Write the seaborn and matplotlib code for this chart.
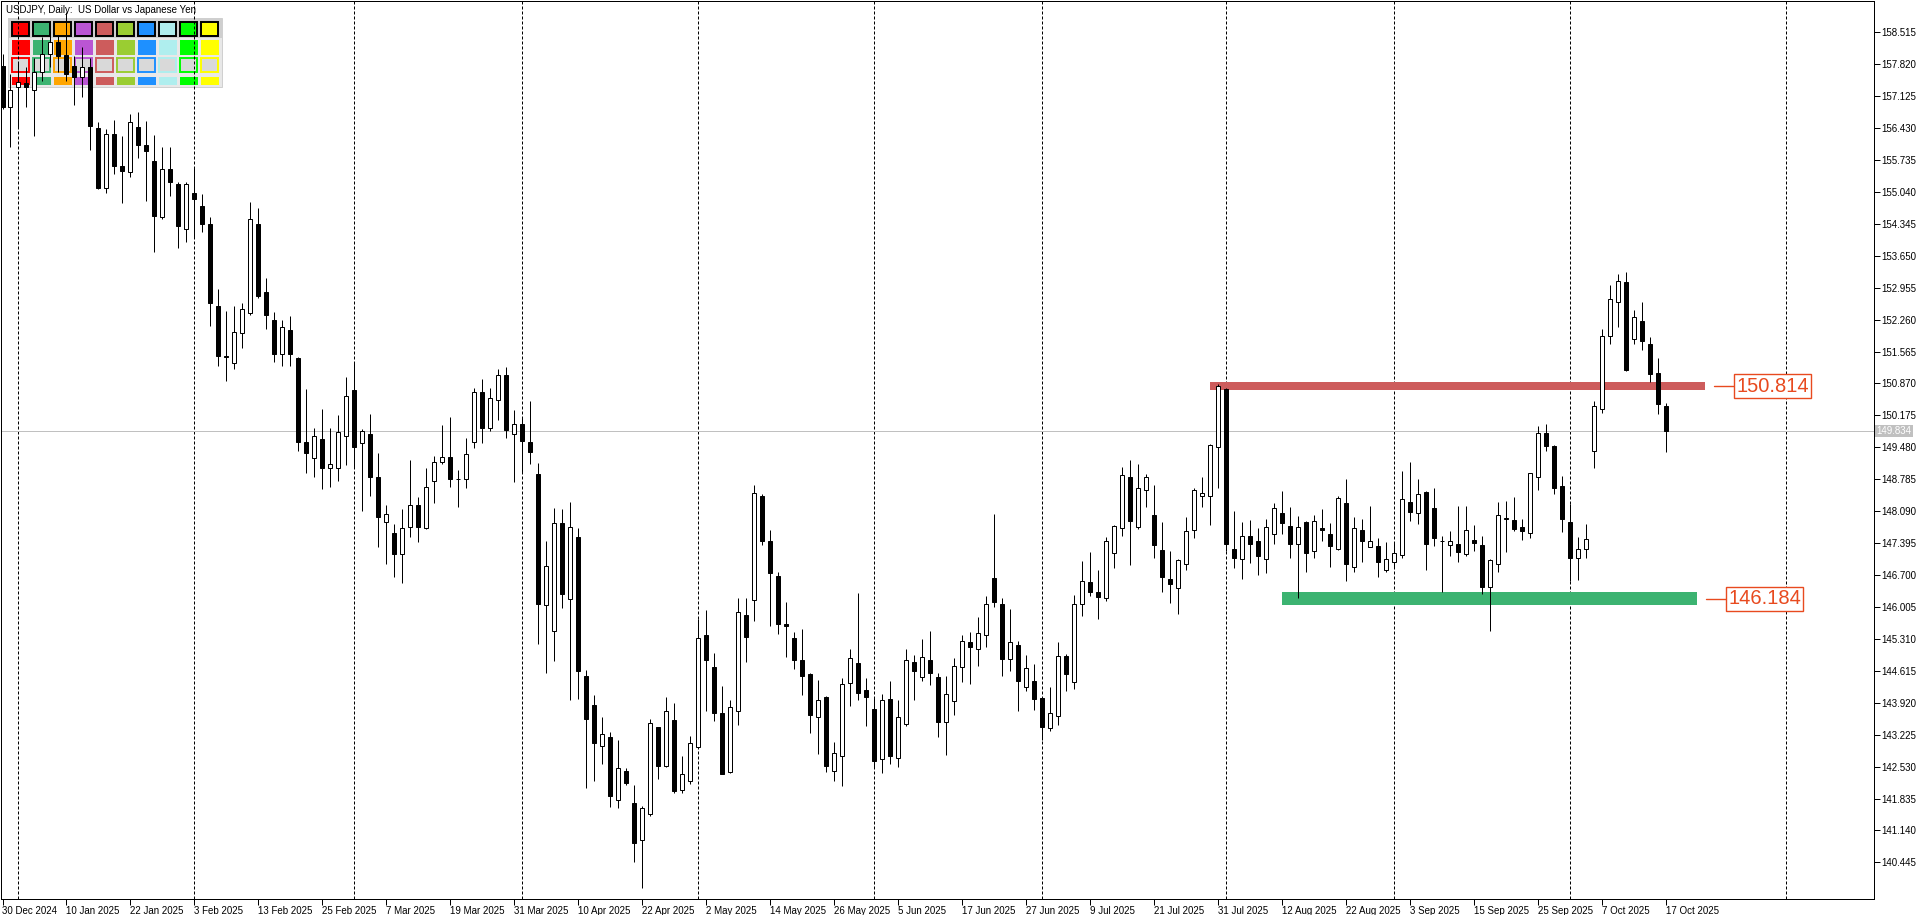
import matplotlib
matplotlib.use("Agg")
import matplotlib.pyplot as plt
import matplotlib.transforms as mtransforms
from matplotlib.patches import Rectangle
import numpy as np
import pandas as pd
import seaborn as sns

# daily bars 30 Dec 2024 .. 17 Oct 2025 (no bar on 1 Jan)
dates = pd.bdate_range("2024-12-30", "2025-10-17")
dates = dates[dates != pd.Timestamp("2025-01-01")]

opens = [
    157.77, 156.88, 157.32, 157.40, 157.25, 157.65, 158.05, 158.30, 158.02, 157.77,
    157.55, 157.75, 156.42, 155.13, 156.29, 155.61, 155.48, 156.45, 156.06, 155.71,
    154.49, 155.53, 155.21, 154.24, 155.01, 154.73, 154.35, 152.55, 151.47, 151.31,
    151.96, 152.41, 154.34, 152.85, 152.24, 151.50, 152.03, 151.42, 149.59, 149.24,
    149.67, 149.02, 149.04, 149.73, 150.72, 149.58, 149.78, 148.83, 147.86, 147.61,
    147.15, 147.74, 148.22, 147.72, 148.74, 149.15, 149.26, 148.80, 148.78, 149.59,
    150.68, 149.89, 150.52, 151.05, 149.76, 149.98, 149.59, 148.90, 146.04, 145.49,
    147.83, 146.17, 147.52, 144.50, 143.87, 142.97, 143.17, 141.80, 142.44, 141.74,
    140.93, 141.49, 143.39, 142.55, 143.54, 142.01, 142.22, 142.96, 145.39, 144.69,
    143.69, 142.42, 143.73, 145.82, 146.15, 148.41, 147.44, 146.67, 145.63, 145.33,
    144.85, 144.54, 143.60, 144.04, 142.44, 142.75, 144.34, 144.78, 144.20, 143.78,
    142.69, 144.00, 142.71, 143.46, 144.80, 144.47, 144.84, 144.49, 143.49, 143.95,
    144.70, 145.24, 145.08, 145.39, 146.63, 146.08, 144.87, 145.17, 144.27, 144.39,
    144.02, 143.38, 143.63, 144.94, 144.38, 146.06, 146.55, 146.33, 146.19, 147.19,
    147.72, 148.83, 147.75, 148.54, 148.00, 147.24, 146.61, 146.42, 146.95, 147.69,
    148.43, 148.43, 149.48, 150.74, 147.26, 147.04, 147.54, 147.43, 147.04, 147.59,
    148.06, 147.76, 147.37, 147.85, 147.22, 147.72, 147.59, 147.27, 148.26, 146.87,
    147.69, 147.32, 147.34, 146.80, 146.98, 147.13, 148.28, 148.04, 148.50, 148.15,
    147.45, 147.35, 147.37, 147.15, 147.46, 147.35, 146.45, 146.93, 147.91, 147.90,
    147.74, 147.62, 148.84, 149.80, 149.51, 148.64, 147.85, 147.06, 147.26, 149.39,
    150.32, 151.91, 152.65, 153.07, 151.84, 152.23, 151.72, 151.09, 150.38,
]
highs = [
    158.05, 157.60, 157.85, 157.75, 157.95, 158.40, 158.55, 158.45, 158.95, 158.00,
    158.20, 157.95, 156.55, 156.40, 156.60, 156.26, 156.73, 156.77, 156.59, 156.28,
    156.02, 156.02, 155.26, 155.26, 155.55, 155.00, 154.49, 152.93, 152.45, 152.56,
    152.61, 154.81, 154.69, 153.16, 152.42, 152.25, 152.34, 151.45, 150.75, 149.90,
    150.31, 149.90, 150.18, 151.01, 151.33, 149.88, 150.20, 149.36, 148.22, 147.80,
    148.13, 149.20, 148.39, 149.04, 149.29, 149.97, 150.15, 148.98, 149.68, 150.76,
    150.96, 150.76, 151.18, 151.22, 150.29, 150.15, 150.49, 149.13, 147.44, 148.15,
    148.14, 148.28, 147.72, 144.63, 144.09, 143.60, 143.28, 143.11, 142.49, 142.13,
    141.67, 143.56, 143.40, 144.04, 143.91, 142.76, 143.20, 145.74, 145.94, 145.00,
    144.28, 143.99, 146.20, 146.20, 148.66, 148.46, 147.68, 146.76, 146.11, 145.46,
    145.53, 144.56, 144.41, 144.07, 143.06, 144.46, 145.09, 146.30, 144.45, 144.02,
    144.12, 144.39, 143.97, 145.10, 144.96, 145.31, 145.48, 144.56, 144.50, 144.89,
    145.39, 145.47, 145.79, 146.24, 148.03, 146.19, 145.96, 145.26, 144.96, 144.76,
    144.05, 144.26, 145.24, 144.98, 146.27, 147.00, 147.20, 146.81, 147.52, 147.79,
    149.05, 149.20, 149.11, 148.90, 148.67, 147.86, 147.22, 147.04, 147.97, 148.60,
    148.84, 149.55, 150.86, 150.76, 148.09, 147.85, 147.90, 147.72, 147.92, 148.26,
    148.53, 148.18, 147.99, 147.88, 148.01, 148.14, 147.83, 148.42, 148.79, 147.96,
    147.92, 148.20, 147.50, 147.41, 147.41, 148.96, 149.16, 148.79, 148.52, 148.59,
    147.55, 147.65, 148.20, 148.20, 147.79, 147.55, 147.04, 148.29, 148.31, 148.40,
    147.93, 148.93, 149.94, 149.99, 149.53, 148.85, 148.25, 147.53, 147.82, 150.49,
    152.05, 153.01, 153.25, 153.29, 152.47, 152.64, 151.87, 151.42, 150.44,
]
lows = [
    156.85, 156.02, 156.46, 156.89, 156.26, 157.45, 157.75, 157.65, 157.45, 156.93,
    157.10, 155.95, 155.10, 155.01, 155.43, 154.79, 155.37, 155.77, 154.84, 153.72,
    154.45, 154.96, 153.81, 153.94, 154.03, 154.17, 152.13, 151.24, 150.93, 151.19,
    151.65, 152.37, 152.72, 152.05, 151.34, 151.24, 151.26, 149.41, 148.93, 148.84,
    148.57, 148.62, 148.75, 149.09, 149.06, 148.09, 148.41, 147.32, 146.95, 146.65,
    146.53, 147.53, 147.41, 147.70, 148.26, 149.11, 148.61, 148.19, 148.59, 149.46,
    149.57, 149.84, 150.07, 149.68, 148.72, 148.93, 149.11, 145.19, 144.56, 144.83,
    145.98, 143.98, 144.00, 142.07, 142.22, 142.59, 141.64, 141.62, 142.12, 140.46,
    139.88, 141.46, 142.26, 142.53, 141.96, 141.96, 142.15, 142.94, 143.73, 143.53,
    142.36, 142.40, 143.44, 144.81, 145.71, 147.36, 145.60, 145.42, 144.92, 144.65,
    144.09, 143.26, 142.81, 142.42, 142.22, 142.11, 143.85, 143.97, 143.42, 142.53,
    142.38, 142.59, 142.53, 143.42, 143.98, 144.39, 144.31, 143.18, 142.78, 143.65,
    144.38, 144.33, 144.72, 145.13, 146.01, 144.51, 144.60, 143.75, 144.18, 143.76,
    143.11, 143.31, 143.44, 144.18, 144.22, 145.81, 146.24, 145.75, 146.14, 146.85,
    147.56, 146.92, 147.71, 148.19, 147.08, 146.32, 146.10, 145.85, 146.81, 147.51,
    148.17, 147.79, 148.60, 147.23, 146.86, 146.62, 146.97, 146.69, 146.74, 147.37,
    147.59, 147.08, 146.21, 146.76, 147.08, 147.45, 146.88, 147.25, 146.58, 146.77,
    146.99, 147.30, 146.66, 146.77, 146.88, 147.06, 147.88, 147.80, 146.82, 147.34,
    146.32, 147.11, 146.99, 147.12, 147.23, 146.28, 145.49, 146.77, 147.21, 147.66,
    147.46, 147.51, 148.55, 149.40, 148.46, 147.64, 146.58, 146.59, 147.08, 149.03,
    150.23, 151.73, 152.10, 151.14, 151.73, 151.60, 150.90, 150.20, 149.38,
]
closes = [
    156.88, 157.26, 157.44, 157.33, 157.65, 158.05, 158.30, 158.00, 157.60, 157.55,
    157.75, 156.47, 155.12, 156.29, 155.61, 155.50, 156.55, 156.07, 155.94, 154.52,
    155.53, 155.26, 154.30, 155.21, 154.88, 154.33, 152.61, 151.46, 151.44, 152.00,
    152.50, 154.44, 152.78, 152.35, 151.52, 152.09, 151.50, 149.60, 149.35, 149.72,
    149.02, 149.11, 149.81, 150.59, 149.49, 149.83, 148.83, 147.97, 148.02, 147.16,
    147.72, 148.22, 147.75, 148.61, 149.15, 149.26, 148.80, 148.78, 149.33, 150.68,
    149.89, 150.55, 151.05, 149.86, 149.98, 149.62, 149.37, 146.06, 146.89, 147.83,
    146.28, 147.74, 144.60, 143.56, 143.05, 143.24, 141.88, 142.49, 142.17, 140.87,
    141.62, 143.47, 142.55, 143.73, 141.99, 142.36, 143.05, 145.34, 144.85, 143.70,
    142.37, 143.82, 145.89, 145.36, 148.48, 147.45, 146.75, 145.63, 145.60, 144.86,
    144.51, 143.66, 143.97, 142.55, 142.82, 144.32, 144.89, 144.14, 144.05, 142.66,
    143.99, 142.77, 143.61, 144.86, 144.62, 144.91, 144.57, 143.49, 144.12, 144.73,
    145.26, 145.14, 145.43, 146.08, 146.12, 144.87, 145.25, 144.40, 144.67, 144.01,
    143.40, 143.69, 144.94, 144.54, 146.06, 146.58, 146.34, 146.22, 147.43, 147.77,
    148.87, 147.88, 148.59, 148.83, 147.36, 146.66, 146.51, 147.02, 147.65, 148.54,
    148.48, 149.52, 150.81, 147.37, 147.06, 147.56, 147.37, 147.12, 147.74, 148.15,
    147.84, 147.38, 147.74, 147.17, 147.87, 147.67, 147.34, 148.37, 146.95, 147.72,
    147.43, 147.43, 146.98, 147.04, 147.17, 148.35, 148.08, 148.46, 147.38, 147.51,
    147.43, 147.45, 147.21, 147.67, 147.40, 146.45, 147.03, 148.00, 147.95, 147.71,
    147.66, 148.91, 149.79, 149.51, 148.60, 147.93, 147.08, 147.26, 147.48, 150.38,
    151.90, 152.71, 153.09, 151.16, 152.31, 151.80, 151.08, 150.43, 149.84,
]

price_ticks = [158.515, 157.820, 157.125, 156.430, 155.735, 155.040, 154.345,
               153.650, 152.955, 152.260, 151.565, 150.870, 150.175, 149.480,
               148.785, 148.090, 147.395, 146.700, 146.005, 145.310, 144.615,
               143.920, 143.225, 142.530, 141.835, 141.140, 140.445]
last_price = 149.834

# support / resistance zones (start bar, end in bars incl. future space)
zone_levels = [150.814, 146.184]
zone_start = [151, 160]
zone_end = [212.8, 211.8]
zone_half = [0.095, 0.138]
zone_colors = ["#cd5c5c", "#3cb371"]

future_separator = 223   # November separator in the empty right margin

panel_colors = ["#ff0000", "#3cb371", "#ffa500", "#ba55d3", "#cd5c5c",
                "#9acd32", "#1e90ff", "#afeeee", "#00ff00", "#ffff00"]

df = pd.DataFrame({"date": dates, "open": opens, "high": highs,
                   "low": lows, "close": closes})
df["x"] = np.arange(len(df))
df["up"] = df["close"] >= df["open"]

sns.set_theme(style="white")
plt.rcParams["font.family"] = ["Liberation Sans", "DejaVu Sans"]

W, H = 1920, 915
fig = plt.figure(figsize=(W / 100, H / 100), dpi=100)
fig.patch.set_facecolor("white")

# pixel layer below the chart: title and the colour panel
ov = fig.add_axes([0, 0, 1, 1], zorder=0)
ov.set_xlim(0, W)
ov.set_ylim(H, 0)
ov.axis("off")

left_px, right_px, top_px, bottom_px = 1, 1874, 1, 899
ax = fig.add_axes([left_px / W, 1 - bottom_px / H,
                   (right_px - left_px) / W, (bottom_px - top_px) / H], zorder=1)
ax.set_facecolor("none")

bar_px = 8.0
px_price = 0.021766
ax.set_xlim((left_px - 2.5) / bar_px, (right_px - 2.5) / bar_px)
ax.set_ylim(158.515 - (bottom_px - 32.2) * px_price,
            158.515 + (32.2 - top_px) * px_price)

lw = 0.72  # one pixel

# month separators
seps = [i for i in range(1, len(dates)) if dates[i].month != dates[i - 1].month]
for s in seps + [future_separator]:
    ax.axvline(s, color="black", lw=lw, ls=(0, (3, 2)), zorder=1)

# last price line
ax.axhline(last_price, color="#c0c0c0", lw=lw, zorder=1)

# zones
for lev, x0, x1, hh, col in zip(zone_levels, zone_start, zone_end, zone_half, zone_colors):
    ax.add_patch(Rectangle((x0, lev - hh), x1 - x0, 2 * hh, facecolor=col,
                           edgecolor="none", zorder=1.5))
    ax.plot([x1 + 1.1, x1 + 3.9], [lev, lev], color="#e84a1f", lw=1.0, zorder=2,
            clip_on=False)
    ax.text(x1 + 3.9, lev, f"{lev:.3f}", ha="left", va="center", fontsize=14.5,
            color="#e84a1f", zorder=5, clip_on=False,
            bbox=dict(boxstyle="square,pad=0.12", fc="white", ec="#e84a1f", lw=1.0))

# candles
ax.vlines(df["x"], df["low"], df["high"], color="black", lw=lw, zorder=3)
body_h = (df["close"] - df["open"]).abs().clip(lower=0.001)
body_b = df[["open", "close"]].min(axis=1)
ax.bar(df["x"], body_h, bottom=body_b, width=0.5,
       color=np.where(df["up"], "white", "black"), edgecolor="black",
       linewidth=lw, zorder=4)

# axes
ax.grid(False)
for sp in ax.spines.values():
    sp.set_visible(True)
    sp.set_color("black")
    sp.set_linewidth(lw)
ax.yaxis.tick_right()
ax.set_yticks(price_ticks)
ax.set_yticklabels([f"{p:.3f}" for p in price_ticks])
ax.tick_params(axis="y", right=True, left=False, labelright=True, labelleft=False,
               direction="out", length=4, width=lw, pad=1.5, labelsize=7,
               colors="black")
ax.set_xticks(df["x"][::8])
ax.set_xticklabels([f"{d.day} {d:%b %Y}" for d in dates[::8]], ha="left")
ax.tick_params(axis="x", bottom=True, direction="out", length=4, width=lw, pad=1,
               labelsize=7, colors="black")

trans = mtransforms.blended_transform_factory(ax.transAxes, ax.transData)
ax.text(1.0015, last_price, f"{last_price:.3f}", transform=trans, ha="left",
        va="center", fontsize=7, color="white", zorder=6, clip_on=False,
        bbox=dict(boxstyle="square,pad=0.15", fc="#c0c0c0", ec="none"))

# title
ov.text(6.5, 10, "USDJPY, Daily:  US Dollar vs Japanese Yen", fontsize=7,
        ha="left", va="center", color="black")

# colour panel (top-left)
ov.add_patch(Rectangle((8.3, 18.3), 213.4, 68.4, fc="#e8e8e8", ec="#d0d0d0", lw=lw))
ov.add_patch(Rectangle((8.3, 18.3), 213.4, 20, fc="#cfcfcf", ec="none"))
for k, col in enumerate(panel_colors):
    x0 = 11.7 + 21.0 * k
    ov.add_patch(Rectangle((x0, 21.7), 17.5, 14, fc=col, ec="black", lw=1.4))
    ov.add_patch(Rectangle((x0, 40.0), 17.8, 15, fc=col, ec="none"))
    ov.add_patch(Rectangle((x0 + 0.5, 58.0), 17, 13.5, fc="#d9d9d9", ec=col, lw=1.4))
    ov.add_patch(Rectangle((x0, 76.7), 17.8, 8.3, fc=col, ec="none"))

fig.savefig("out.png", dpi=100)
